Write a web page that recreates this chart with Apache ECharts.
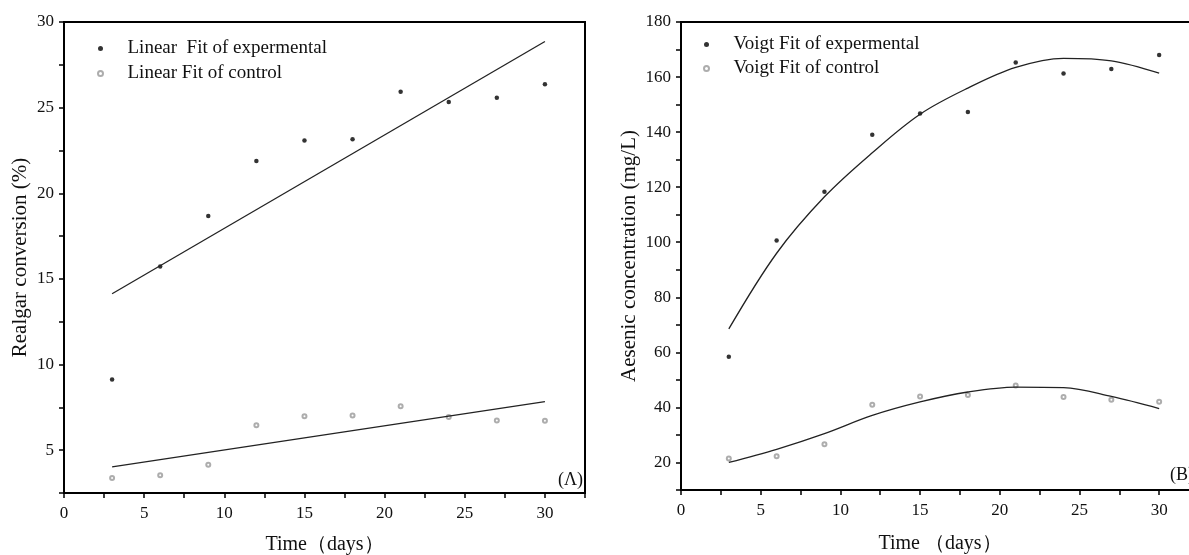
<!DOCTYPE html>
<html>
<head>
<meta charset="utf-8">
<script src="https://cdn.jsdelivr.net/npm/echarts@6/dist/echarts.min.js"></script>
<style>
  html, body { margin: 0; padding: 0; background: #fff; }
  #chart { width: 1189px; height: 555px; }
</style>
</head>
<body>
<div id="chart"></div>
<script>
// sampling days (both panels)
var days = [3, 6, 9, 12, 15, 18, 21, 24, 27, 30];

// (A) realgar conversion, %
var realgarExp = [9.13, 15.73, 18.68, 21.88, 23.08, 23.16, 25.93, 25.33, 25.58, 26.37];
var realgarCtrl = [3.37, 3.53, 4.15, 6.45, 6.98, 7.03, 7.56, 6.94, 6.74, 6.72];
// linear fits, read at the ends of the drawn lines
var realgarFitDays = [3, 30];
var realgarExpFit = [14.13, 28.86];
var realgarCtrlFit = [4.03, 7.83];

// (B) arsenic concentration, mg/L
var arsenicExp = [58.4, 100.6, 118.3, 139.0, 146.8, 147.3, 165.3, 161.3, 162.9, 168.0];
var arsenicCtrl = [21.4, 22.3, 26.6, 41.0, 44.0, 44.5, 48.0, 43.8, 42.8, 42.1];
// voigt fit curves at each day
var arsenicExpFit = [68.5, 96.0, 116.5, 132.5, 146.5, 156.0, 163.5, 166.8, 165.9, 161.4];
var arsenicCtrlFit = [20.0, 24.8, 30.5, 37.1, 42.0, 45.6, 47.4, 47.2, 44.0, 39.6];

var legendA = ['Linear  Fit of expermental', 'Linear Fit of control'];
var legendB = ['Voigt Fit of expermental', 'Voigt Fit of control'];

var serif = 'Liberation Serif';

function pairs(xs, ys) {
    return xs.map(function (x, i) { return [x, ys[i]]; });
}

function every(step, top) {
    return function (v) {
        var k = v / step;
        return Math.abs(k - Math.round(k)) < 1e-6 && v <= top ? String(v) : '';
    };
}

function xAxisOf(grid, max, name, gap) {
    return {
        type: 'value', gridIndex: grid, min: 0, max: max, interval: 2.5,
        name: name, nameLocation: 'middle', nameGap: gap,
        nameTextStyle: { fontFamily: serif, fontSize: 20, color: '#111' },
        axisLine: { lineStyle: { color: '#000', width: 2 } },
        axisTick: { length: 5, lineStyle: { color: '#000', width: 1.5 } },
        axisLabel: { fontFamily: serif, fontSize: 17, color: '#111', margin: 12, formatter: every(5, 30) },
        splitLine: { show: false }
    };
}

function yAxisOf(grid, min, max, interval, step, name, gap) {
    return {
        type: 'value', gridIndex: grid, min: min, max: max, interval: interval,
        name: name, nameLocation: 'middle', nameGap: gap,
        nameTextStyle: { fontFamily: serif, fontSize: 21, color: '#111' },
        axisLine: { show: true, lineStyle: { color: '#000', width: 2 } },
        axisTick: { show: true, length: 5, lineStyle: { color: '#000', width: 1.5 } },
        axisLabel: { fontFamily: serif, fontSize: 17, color: '#111', margin: 10, formatter: every(step, max) },
        splitLine: { show: false }
    };
}

var expDot = { symbol: 'circle', symbolSize: 4.5, itemStyle: { color: '#000' } };
var ctrlDot = { symbol: 'emptyCircle', symbolSize: 4, itemStyle: { color: '#999', borderWidth: 1 } };

var fitLine = { color: '#222', width: 1.3 };

var myChart = echarts.init(document.getElementById('chart'));

var option = {
    animation: false,
    backgroundColor: '#fff',
    grid: [
        { left: 64, top: 22, width: 521, bottom: 62, outerBoundsMode: 'none', show: true, borderColor: '#000', borderWidth: 2 },
        // panel B runs past the right edge of the picture, as in the source
        { left: 681, top: 22, width: 518, bottom: 65, outerBoundsMode: 'none', show: true, borderColor: '#000', borderWidth: 2 }
    ],
    legend: [
        {
            data: legendA, orient: 'vertical', left: 92, top: 33,
            itemWidth: 44, itemHeight: 5, itemGap: 4,
            textStyle: { fontFamily: serif, fontSize: 19, color: '#111', lineHeight: 21 }
        },
        {
            data: legendB, orient: 'vertical', left: 698, top: 29,
            itemWidth: 44, itemHeight: 5, itemGap: 3,
            textStyle: { fontFamily: serif, fontSize: 19, color: '#111', lineHeight: 21 }
        }
    ],
    xAxis: [
        xAxisOf(0, 32.5, 'Time（days）', 42),
        xAxisOf(1, 32.5, 'Time （days）', 44)
    ],
    yAxis: [
        yAxisOf(0, 2.5, 30, 2.5, 5, 'Realgar conversion (%)', 33),
        yAxisOf(1, 10, 180, 10, 20, 'Aesenic concentration (mg/L)', 41)
    ],
    graphic: [
        { type: 'text', right: 1189 - 583, top: 471, style: { text: '(Λ)', font: '18px "Liberation Serif"', fill: '#111' } },
        { type: 'text', left: 1170, top: 466, style: { text: '(B)', font: '18px "Liberation Serif"', fill: '#111' } }
    ],
    series: [
        Object.assign({ name: legendA[0], type: 'scatter', xAxisIndex: 0, yAxisIndex: 0, data: pairs(days, realgarExp) }, expDot),
        Object.assign({ name: legendA[1], type: 'scatter', xAxisIndex: 0, yAxisIndex: 0, data: pairs(days, realgarCtrl) }, ctrlDot),
        { type: 'line', xAxisIndex: 0, yAxisIndex: 0, showSymbol: false, lineStyle: fitLine, data: pairs(realgarFitDays, realgarExpFit) },
        { type: 'line', xAxisIndex: 0, yAxisIndex: 0, showSymbol: false, lineStyle: fitLine, data: pairs(realgarFitDays, realgarCtrlFit) },

        Object.assign({ name: legendB[0], type: 'scatter', xAxisIndex: 1, yAxisIndex: 1, data: pairs(days, arsenicExp) }, expDot),
        Object.assign({ name: legendB[1], type: 'scatter', xAxisIndex: 1, yAxisIndex: 1, data: pairs(days, arsenicCtrl) }, ctrlDot),
        { type: 'line', xAxisIndex: 1, yAxisIndex: 1, showSymbol: false, smooth: 0.35, lineStyle: fitLine, data: pairs(days, arsenicExpFit) },
        { type: 'line', xAxisIndex: 1, yAxisIndex: 1, showSymbol: false, smooth: 0.35, lineStyle: fitLine, data: pairs(days, arsenicCtrlFit) }
    ]
};

myChart.setOption(option);
</script>
</body>
</html>
